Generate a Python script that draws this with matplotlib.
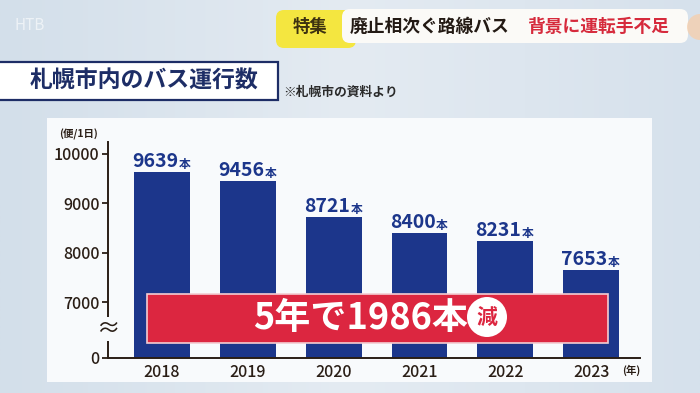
import numpy as np
import matplotlib.pyplot as plt
from matplotlib.colors import LinearSegmentedColormap
from matplotlib.patches import Rectangle, FancyBboxPatch, Circle

plt.rcParams['font.family'] = ['Noto Sans CJK JP', 'DejaVu Sans']

# data
years = ["2018", "2019", "2020", "2021", "2022", "2023"]
buses = [9639, 9456, 8721, 8400, 8231, 7653]
ytick_vals = [7000, 8000, 9000, 10000]
ytick_labels = ["7000", "8000", "9000", "10000"]

W, H = 700, 393
base = 5865  # where the broken axis puts "0"

navy = "#1c368b"
ink = "#2a1e16"
red = "#dc2640"
panel = "#f8fafc"


def fx(x):
    return x / W


def fy(y):
    return 1 - y / H


fig = plt.figure(figsize=(7, 3.93), dpi=100)
fig.patch.set_facecolor("#dfe7ef")

# background layer in pixel coordinates
bg = fig.add_axes([0, 0, 1, 1], zorder=0)
grad = np.linspace(0, 1, 256).reshape(1, -1)
bg.imshow(grad, extent=[0, W, H, 0], aspect="auto",
          cmap=LinearSegmentedColormap.from_list("g", ["#d3dfea", "#e4ebf2", "#d6e1ec"]))
bg.set_xlim(0, W)
bg.set_ylim(H, 0)
bg.axis("off")

bg.add_patch(Rectangle((47, 118), 605, 264, facecolor=panel, edgecolor="none"))
bg.text(30, 26, "HTB", fontsize=11, color="white", alpha=0.6, ha="center", va="center")

# top banner
bg.add_patch(FancyBboxPatch((276, 10), 80, 38, boxstyle="round,pad=0,rounding_size=8",
                            facecolor="#f4e640", edgecolor="none"))
bg.add_patch(FancyBboxPatch((342, 9), 346, 34, boxstyle="round,pad=0,rounding_size=8",
                            facecolor="#fbfaf7", edgecolor="none"))
bg.add_patch(Circle((700, 27), 13, facecolor="#f5cfae", edgecolor="none", alpha=0.8))
bg.text(310, 27, "特集", fontsize=12.5, fontweight="bold", color="#3d3210", ha="center", va="center")
bg.text(350, 27, "廃止相次ぐ路線バス", fontsize=12.8, fontweight="bold", color="#231a14", ha="left", va="center")
bg.text(527, 27, "背景に運転手不足", fontsize=12.8, fontweight="bold", color="#d62a3c", ha="left", va="center")

# title box
bg.add_patch(Rectangle((-3, 62), 281, 38, facecolor="white", edgecolor="#1d2d66", linewidth=1.6))
bg.text(144, 81, "札幌市内のバス運行数", fontsize=16.5, fontweight="bold", color="#1d2d66",
        ha="center", va="center")
bg.text(283, 92, "※札幌市の資料より", fontsize=9.2, fontweight="bold", color="#2a2a2a",
        ha="left", va="center")
bg.text(79, 134, "(便/1日)", fontsize=7.5, fontweight="bold", color=ink, ha="center", va="center")
bg.text(631, 370, "(年)", fontsize=7.5, fontweight="bold", color=ink, ha="center", va="center")

# chart
ax = fig.add_axes([fx(108), fy(358), fx(640 - 108), (358 - 142) / H], zorder=1)
ax.set_facecolor("none")
x = np.arange(len(years))
ax.bar(x, np.array(buses) - base, bottom=base, width=0.65, color=navy, zorder=2)
ax.set_xlim(-0.63, 5.57)
ax.set_ylim(base, 10243)

for i, v in enumerate(buses):
    t = ax.annotate(str(v), (i, v), xytext=(-5, 3.5), textcoords="offset points",
                    ha="center", va="baseline", fontsize=14, fontweight="bold", color=navy)
    ax.annotate("本", xy=(1, 0), xycoords=t, xytext=(0.5, 0), textcoords="offset points",
                ha="left", va="bottom", fontsize=8.5, fontweight="bold", color=navy)

ax.set_yticks([base] + ytick_vals)
ax.set_yticklabels(["0"] + ytick_labels)
ax.set_xticks(x)
ax.set_xticklabels(years)
ax.tick_params(axis="y", length=4, width=1.3, color=ink, pad=2, labelsize=11.5, labelcolor=ink)
ax.tick_params(axis="x", length=0, pad=4, labelsize=11.5, labelcolor=ink)
for lbl in ax.get_xticklabels() + ax.get_yticklabels():
    lbl.set_fontweight("medium")
for s in ["top", "right"]:
    ax.spines[s].set_visible(False)
for s in ["left", "bottom"]:
    ax.spines[s].set_color(ink)
    ax.spines[s].set_linewidth(1.4)

ax.text(0, (base + 7000) / 2 + 20, "≈", transform=ax.get_yaxis_transform(), fontsize=17,
        color=ink, ha="center", va="center",
        bbox=dict(facecolor=panel, edgecolor="none", pad=0.3), zorder=5)

# red callout on top
top = fig.add_axes([0, 0, 1, 1], zorder=2)
top.set_xlim(0, W)
top.set_ylim(H, 0)
top.axis("off")
top.add_patch(Rectangle((147, 294), 461, 49, facecolor=red, edgecolor="#f3cdd3", linewidth=1.2))
top.text(361, 319, "5年で1986本", fontsize=26, fontweight="bold", color="white", ha="center", va="center")
top.add_patch(Circle((487, 317), 20, facecolor="white", edgecolor="none"))
top.text(487, 317, "減", fontsize=15, fontweight="bold", color=red, ha="center", va="center")

fig.savefig("out.png", dpi=100, facecolor=fig.get_facecolor())
